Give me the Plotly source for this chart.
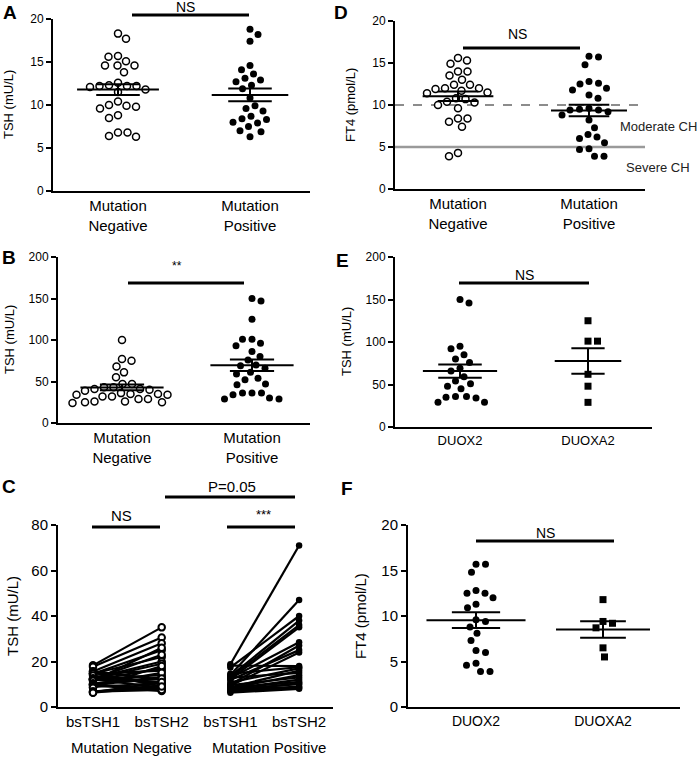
import numpy as np
import plotly.graph_objects as go

W, H = 700, 757
FONT = "Liberation Sans, Arial, Helvetica, sans-serif"

# ---------------- data ----------------
cat_mut = ["Mutation<br>Negative", "Mutation<br>Positive"]
cat_gene = ["DUOX2", "DUOXA2"]
cat_c = ["bsTSH1", "bsTSH2", "bsTSH1", "bsTSH2"]
groups_c = ["Mutation Negative", "Mutation Positive"]

# A: TSH (mU/L)
A_neg = [18.3, 17.7, 15.7, 15.6, 15.1, 14.6, 14.6, 14.6, 13.8, 12.6, 12.3, 12.2, 12.2, 12.2,
         12.1, 11.8, 11.5, 10.4, 10.0, 9.9, 9.8, 9.6, 8.8, 8.5, 6.8, 6.8, 6.4, 6.3]
A_pos = [18.8, 18.2, 17.4, 14.6, 14.1, 13.6, 13.1, 12.9, 12.7, 12.3, 11.9, 10.8, 9.9, 9.6,
         9.3, 8.7, 8.4, 8.3, 8.0, 7.9, 7.5, 7.0, 6.9, 6.3]

# B: TSH (mU/L)
B_neg = [100, 77, 75, 68, 61, 55, 47, 47, 43, 41, 41, 40, 39, 36, 35, 35, 34, 34, 32, 32,
         29, 29, 26, 25, 25, 24, 26, 43]
B_pos = [150, 147, 125, 101, 101, 96, 93, 86, 80, 76, 70, 69, 66, 61, 59, 54, 52, 47, 46,
         36, 36, 36, 34, 30, 29, 29]

# C: paired bsTSH1 -> bsTSH2
C_neg_bs1 = [18.3, 17.7, 15.7, 15.6, 15.1, 14.6, 14.6, 14.6, 13.8, 12.6, 12.3, 12.2, 12.2, 12.2,
             12.1, 11.8, 11.5, 10.4, 10.0, 9.9, 9.8, 9.6, 8.8, 8.5, 6.8, 6.8, 6.4, 6.3]
C_neg_bs2 = [35.0, 30.5, 12.0, 28.0, 9.0, 25.0, 16.0, 22.0, 10.0, 20.0, 14.0, 8.5, 23.0, 19.0,
             11.0, 17.0, 26.0, 13.0, 8.0, 15.0, 12.5, 7.0, 10.5, 18.0, 9.5, 7.5, 11.0, 9.0]
C_pos_bs1 = [18.8, 18.2, 17.4, 14.6, 14.1, 13.6, 13.1, 12.9, 12.7, 12.3, 11.9, 10.8, 9.9, 9.6,
             9.3, 8.7, 8.4, 8.3, 8.0, 7.9, 7.5, 7.0, 6.9, 6.3]
C_pos_bs2 = [71.0, 18.0, 40.0, 17.5, 47.0, 38.0, 36.0, 15.0, 28.5, 35.0, 25.0, 17.0, 27.0, 13.0,
             24.0, 16.0, 11.0, 14.0, 12.0, 10.0, 9.0, 10.5, 8.5, 8.0]

# D: FT4 (pmol/L)
D_neg = [15.6, 15.3, 14.9, 14.0, 14.0, 13.5, 13.0, 12.4, 12.4, 12.0, 12.0, 11.9, 11.7, 11.5,
         11.4, 10.8, 10.7, 10.4, 10.3, 10.0, 9.6, 8.4, 8.4, 8.0, 7.4, 4.3, 3.9]
D_pos = [15.8, 15.7, 14.8, 12.8, 12.6, 12.5, 12.0, 11.8, 11.2, 10.8, 9.6, 9.5, 9.4, 9.4, 9.2,
         8.8, 8.2, 7.3, 6.5, 6.2, 6.0, 5.5, 4.8, 4.7, 3.9, 3.9]
D_thresholds = [10, 5]
D_threshold_labels = ["Moderate CH", "Severe CH"]

# E: TSH (mU/L) by gene
E_duox2 = [150, 146, 95, 92, 85, 80, 76, 69, 66, 59, 54, 51, 48, 45, 36, 36, 35, 34, 29, 29]
E_duoxa2 = [125, 101, 101, 62, 48, 29]

# F: FT4 (pmol/L) by gene
F_duox2 = [15.7, 15.7, 14.8, 12.8, 12.5, 12.5, 12.0, 11.3, 10.9, 9.6, 9.4, 8.8, 8.1, 7.3, 6.2,
           6.0, 4.8, 4.6, 3.9, 3.9]
F_duoxa2 = [11.8, 9.4, 9.2, 8.7, 6.5, 5.5]

# ---------------- layout (pixels) ----------------
PANELS = {
    "A": dict(n=1, left=53, right=310, top=19, bottom=191, c0=118, dc=132, ymax=20, dtick=5, tf=12),
    "B": dict(n=2, left=58, right=310, top=257, bottom=423, c0=122, dc=130, ymax=200, dtick=50, tf=12),
    "C": dict(n=3, left=58, right=333, top=525, bottom=707, c0=93, dc=68.7, ymax=80, dtick=20, tf=15),
    "D": dict(n=4, left=395, right=645, top=21, bottom=189, c0=458, dc=131, ymax=20, dtick=5, tf=12),
    "E": dict(n=5, left=395, right=652, top=257, bottom=427, c0=460, dc=128, ymax=200, dtick=50, tf=12),
    "F": dict(n=6, left=408, right=680, top=525, bottom=707, c0=476, dc=127, ymax=20, dtick=5, tf=15),
}


def px(x, y):
    return x / W, 1 - y / H


fig = go.Figure()
layout = dict(width=W, height=H, template="none",
              margin=dict(l=0, r=0, t=0, b=0, pad=0, autoexpand=False),
              paper_bgcolor="white", plot_bgcolor="white", showlegend=False,
              font=dict(family=FONT, color="black"))
annotations = []
shapes = []

for key, p in PANELS.items():
    n = p["n"]
    xs = "" if n == 1 else str(n)
    xr = [(p["left"] - p["c0"]) / p["dc"], (p["right"] - p["c0"]) / p["dc"]]
    p["xr"] = xr
    p["ppx"] = p["dc"]
    p["ppy"] = (p["bottom"] - p["top"]) / p["ymax"]
    p["xa"] = "x" + xs
    p["ya"] = "y" + xs
    layout["xaxis" + xs] = dict(
        domain=[p["left"] / W, p["right"] / W], range=xr, anchor="y" + xs, automargin=False,
        showline=True, linecolor="black", linewidth=2, ticks="", showgrid=False,
        zeroline=False, fixedrange=True, tickfont=dict(size=p["tf"], family=FONT, color="black"))
    layout["yaxis" + xs] = dict(
        domain=[1 - p["bottom"] / H, 1 - p["top"] / H], range=[0, p["ymax"]], anchor="x" + xs,
        automargin=False,
        showline=True, linecolor="black", linewidth=2, ticks="outside", ticklen=5,
        tickwidth=2, tickcolor="black", dtick=p["dtick"], tick0=0, showgrid=False,
        zeroline=False, fixedrange=True, tickfont=dict(size=p["tf"], family=FONT, color="black"))


def swarm(values, ppx, ppy, d=9.2):
    vals = np.asarray(values, float)
    order = np.argsort(-vals, kind="stable")
    placed = []
    offs = np.zeros(len(vals))
    flip = 1
    for i in order:
        y = vals[i] * ppy
        found = None
        k = 0
        while found is None:
            cands = [0.0] if k == 0 else [flip * k * 0.5, -flip * k * 0.5]
            for c in cands:
                if all((c - a) ** 2 + (y - b) ** 2 >= d * d for a, b in placed):
                    found = c
                    break
            k += 1
        if found != 0:
            flip = -flip
        placed.append((found, y))
        offs[i] = found / ppx
    return offs


def dot_group(p, center, values, symbol="circle", open_=False, size=7):
    offs = swarm(values, p["ppx"], p["ppy"])
    fig.add_trace(go.Scatter(
        x=center + offs, y=values, mode="markers", xaxis=p["xa"], yaxis=p["ya"],
        marker=dict(symbol=symbol, size=size, color="white" if open_ else "black",
                    line=dict(color="black", width=1.5 if open_ else 0)),
        hoverinfo="y"))


def mean_sem(p, center, values, mw, sw):
    v = np.asarray(values, float)
    m = v.mean()
    s = v.std(ddof=1) / np.sqrt(len(v))
    fig.add_trace(go.Scatter(
        x=[center - mw, center + mw, None, center - sw, center + sw, None,
           center - sw, center + sw, None, center, center],
        y=[m, m, None, m + s, m + s, None, m - s, m - s, None, m - s, m + s],
        mode="lines", line=dict(color="black", width=2), xaxis=p["xa"], yaxis=p["ya"],
        hoverinfo="skip"))


def text(x, y, t, size=14, bold=False, angle=0, color="black"):
    xx, yy = px(x, y)
    annotations.append(dict(xref="paper", yref="paper", x=xx, y=yy, xanchor="center",
                            yanchor="middle", text="<b>%s</b>" % t if bold else t,
                            textangle=angle, showarrow=False,
                            font=dict(size=size, family=FONT, color=color)))


def sig(x0, x1, y, label, tx, ty, size=14):
    ax0, ay = px(x0, y)
    ax1, _ = px(x1, y)
    shapes.append(dict(type="line", xref="paper", yref="paper", x0=ax0, x1=ax1, y0=ay, y1=ay,
                       line=dict(color="black", width=3)))
    text(tx, ty, label, size=size)


# ---- A ----
pA = PANELS["A"]
dot_group(pA, 0, A_neg, open_=True)
dot_group(pA, 1, A_pos)
mean_sem(pA, 0, A_neg, 0.31, 0.165)
mean_sem(pA, 1, A_pos, 0.29, 0.165)
layout["xaxis"].update(tickvals=[0, 1], ticktext=cat_mut, tickfont=dict(size=15, family=FONT))

# ---- B ----
pB = PANELS["B"]
dot_group(pB, 0, B_neg, open_=True)
dot_group(pB, 1, B_pos)
mean_sem(pB, 0, B_neg, 0.32, 0.17)
mean_sem(pB, 1, B_pos, 0.32, 0.17)
layout["xaxis2"].update(tickvals=[0, 1], ticktext=cat_mut, tickfont=dict(size=15, family=FONT))

# ---- C ----
pC = PANELS["C"]
for (b1, b2, x0, open_) in [(C_neg_bs1, C_neg_bs2, 0, True), (C_pos_bs1, C_pos_bs2, 2, False)]:
    lx, ly = [], []
    for a, b in zip(b1, b2):
        lx += [x0, x0 + 1, None]
        ly += [a, b, None]
    fig.add_trace(go.Scatter(x=lx, y=ly, mode="lines", line=dict(color="black", width=2.2),
                             xaxis=pC["xa"], yaxis=pC["ya"], hoverinfo="skip"))
    fig.add_trace(go.Scatter(
        x=[x0] * len(b1) + [x0 + 1] * len(b2), y=list(b1) + list(b2), mode="markers",
        xaxis=pC["xa"], yaxis=pC["ya"],
        marker=dict(symbol="circle", size=6.5, color="white" if open_ else "black",
                    line=dict(color="black", width=2 if open_ else 0)), hoverinfo="y"))
layout["xaxis3"].update(tickvals=[0, 1, 2, 3], ticktext=cat_c)

# ---- D ----
pD = PANELS["D"]
fig.add_trace(go.Scatter(x=[pD["xr"][0], pD["xr"][1] + 0.015], y=[D_thresholds[0]] * 2, mode="lines",
                         line=dict(color="#8c8c8c", width=2, dash="dash"),
                         xaxis=pD["xa"], yaxis=pD["ya"], hoverinfo="skip"))
fig.add_trace(go.Scatter(x=[pD["xr"][0], pD["xr"][1] + 0.015], y=[D_thresholds[1]] * 2, mode="lines",
                         line=dict(color="#9a9a9a", width=2.5),
                         xaxis=pD["xa"], yaxis=pD["ya"], hoverinfo="skip"))
dot_group(pD, 0, D_neg, open_=True)
dot_group(pD, 1, D_pos)
mean_sem(pD, 0, D_neg, 0.27, 0.155)
mean_sem(pD, 1, D_pos, 0.29, 0.155)
layout["xaxis4"].update(tickvals=[0, 1], ticktext=cat_mut, tickfont=dict(size=15, family=FONT))

# ---- E ----
pE = PANELS["E"]
dot_group(pE, 0, E_duox2)
dot_group(pE, 1, E_duoxa2, symbol="square")
mean_sem(pE, 0, E_duox2, 0.29, 0.17)
mean_sem(pE, 1, E_duoxa2, 0.26, 0.13)
layout["xaxis5"].update(tickvals=[0, 1], ticktext=cat_gene, tickfont=dict(size=13, family=FONT))

# ---- F ----
pF = PANELS["F"]
dot_group(pF, 0, F_duox2)
dot_group(pF, 1, F_duoxa2, symbol="square")
mean_sem(pF, 0, F_duox2, 0.39, 0.19)
mean_sem(pF, 1, F_duoxa2, 0.37, 0.18)
layout["xaxis6"].update(tickvals=[0, 1], ticktext=cat_gene, tickfont=dict(size=14, family=FONT))

# ---- annotations: significance ----
sig(132, 249, 15, "NS", 185, 7)
sig(128, 244, 283, "**", 177, 266, size=12)
sig(92, 160, 527, "NS", 121, 515, size=15)
sig(227, 295, 527, "***", 263, 514, size=13)
sig(165, 295, 497, "P=0.05", 232, 487, size=15)
sig(463, 580, 48, "NS", 517, 34)
sig(459, 589, 283, "NS", 524, 275)
sig(476, 614, 541, "NS", 545, 533)

# threshold labels
text(658, 126, D_threshold_labels[0], size=13, color="#222")
text(658, 167, D_threshold_labels[1], size=13, color="#222")

# group labels for C
text(131, 747, groups_c[0], size=15)
text(269, 747, groups_c[1], size=15)

# axis titles
text(9, 105, "TSH (mU/L)", size=13, angle=-90)
text(10, 340, "TSH (mU/L)", size=13, angle=-90)
text(12, 616, "TSH (mU/L)", size=15, angle=-90)
text(351, 105, "FT4 (pmol/L)", size=13, angle=-90)
text(346, 342, "TSH (mU/L)", size=13, angle=-90)
text(360, 616, "FT4 (pmol/L)", size=15, angle=-90)

# panel letters
for lab, x, y in [("A", 10, 12), ("B", 9, 258), ("C", 9, 487), ("D", 341, 12), ("E", 342, 260), ("F", 347, 488)]:
    text(x, y, lab, size=19, bold=True)

layout["annotations"] = annotations
layout["shapes"] = shapes
fig.update_layout(**layout)
fig.write_html("out.html", config={"displayModeBar": False},
               post_script="document.body.style.margin='0';document.body.style.overflow='hidden';")
